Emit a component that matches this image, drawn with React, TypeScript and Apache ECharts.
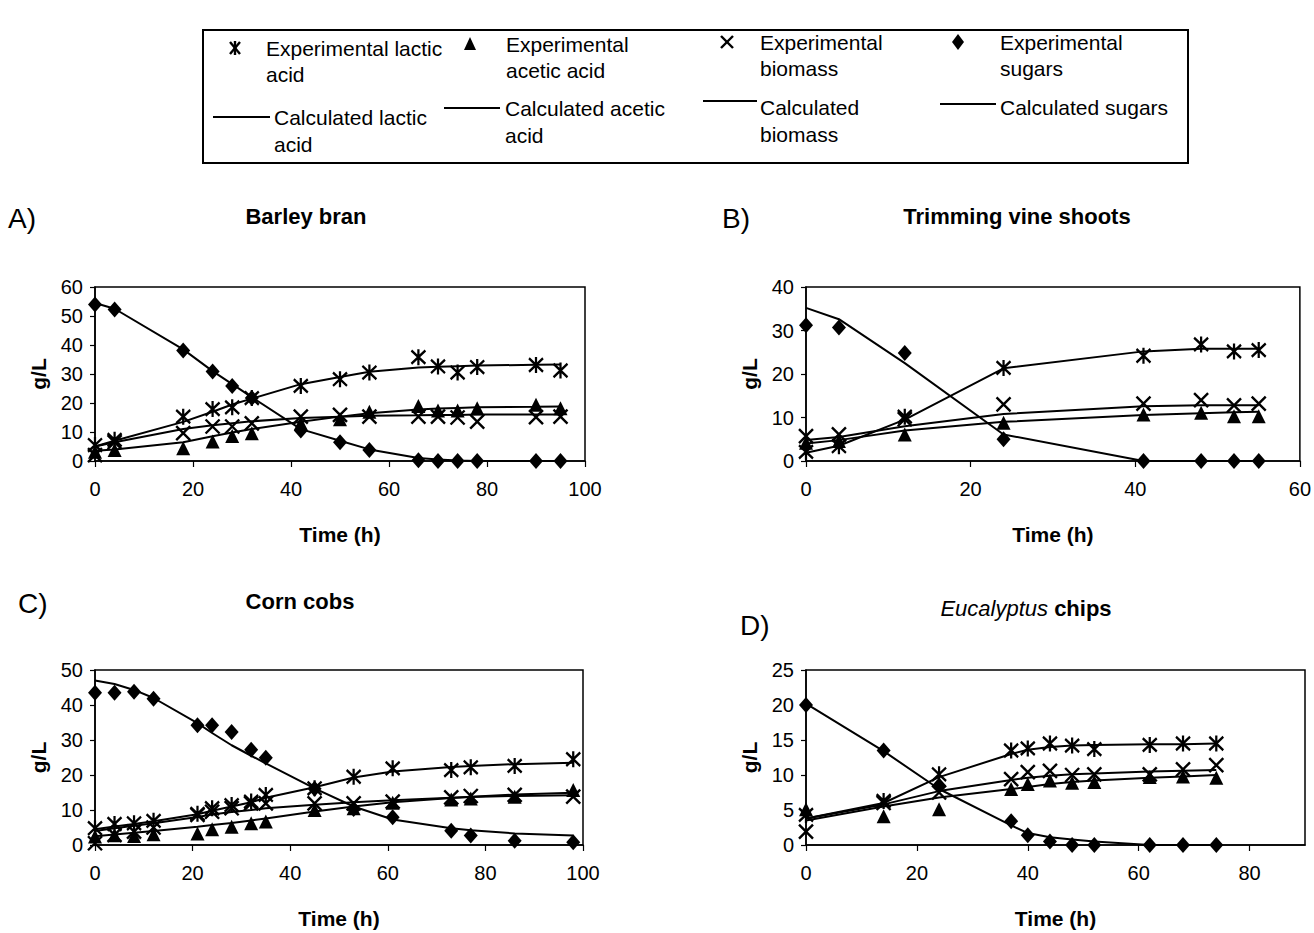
import React, { useEffect, useRef } from 'react';
import * as echarts from 'echarts';

const FONT = '"Liberation Sans", Arial, Helvetica, sans-serif';

// ---------- Panel A: Barley bran ----------
const aTime = [0, 4, 18, 24, 28, 32, 42, 50, 56, 66, 70, 74, 78, 90, 95];
const aLacticExp = [5.5, 7.3, 15.3, 17.9, 18.5, 21.7, 25.9, 28.2, 30.5, 35.8, 32.6, 30.5, 32.4, 33.1, 31.2];
const aLacticCalc = [5, 7, 13.5, 17, 19.5, 21.5, 26.5, 29, 30.8, 32.2, 32.5, 32.7, 32.9, 33.2, 33.3];
const aAceticExp = [3.2, 3.8, 4.4, 6.7, 8.6, 9.6, 13, 14.4, 17, 19, 17.4, 17.4, 18.2, 19.4, 18.2];
const aAceticCalc = [3.5, 4, 6.5, 8.5, 9.8, 11, 13.5, 15.3, 16.5, 17.8, 18.1, 18.3, 18.5, 18.7, 18.8];
const aBiomassExp = [2, 6.5, 9.6, 11.9, 11.9, 13, 15.3, 15.9, 15.3, 15.3, 15.3, 15, 13.6, 15.1, 15.3];
const aBiomassCalc = [5, 6.5, 11, 12.3, 13, 13.7, 14.8, 15.3, 15.6, 15.8, 15.9, 15.9, 16, 16, 16];
const aSugarsExp = [54, 52.2, 38.1, 30.9, 25.9, 21.7, 10.5, 6.5, 3.8, 0.3, 0, 0, 0, 0, 0];
const aSugarsCalc = [54.5, 52.5, 38.5, 31, 26.5, 22, 11, 7, 4, 1, 0.5, 0.2, 0, 0, 0];

// ---------- Panel B: Trimming vine shoots ----------
const bTime = [0, 4, 12, 24, 41, 48, 52, 55];
const bLacticExp = [2.1, 3.4, 10.2, 21.4, 24.2, 26.8, 25.2, 25.5];
const bLacticCalc = [1.9, 3.5, 9.5, 21.3, 25.2, 25.8, 25.8, 25.8];
const bAceticExp = [4.2, 4.6, 6.1, 8.8, 10.7, 11.1, 10.3, 10.3];
const bAceticCalc = [4, 4.8, 7, 9, 10.6, 11, 11.2, 11.3];
const bBiomassExp = [5.7, 6.1, 9.6, 13, 13.2, 14, 12.8, 13.2];
const bBiomassCalc = [4.8, 5.5, 8, 10.8, 12.6, 12.8, 12.8, 12.8];
const bSugarsExp = [31.2, 30.7, 24.8, 5, 0, 0, 0, 0];
const bSugarsCalc = [35.2, 32.6, 22.5, 6.1, 0, 0, 0, 0];

// ---------- Panel C: Corn cobs ----------
const cTime = [0, 4, 8, 12, 21, 24, 28, 32, 35, 45, 53, 61, 73, 77, 86, 98];
const cLacticExp = [4.8, 6, 6.2, 6.9, 8.9, 10.5, 11.4, 12.4, 14.3, 16.2, 19.5, 21.9, 21.4, 22.2, 22.6, 24.5];
const cLacticCalc = [4.5, 5.3, 6, 6.8, 8.8, 9.8, 11, 12.2, 13.5, 16.5, 19.3, 21, 22.3, 22.6, 23.1, 23.5];
const cAceticExp = [2.4, 2.8, 2.6, 3.1, 3.3, 4.5, 5.2, 6.2, 6.7, 10, 10.5, 12.1, 13, 13.3, 13.8, 15.7];
const cAceticCalc = [2.5, 3, 3.5, 4, 5.2, 5.7, 6.3, 7, 7.6, 9.6, 11, 12.2, 13.4, 13.8, 14.4, 14.9];
const cBiomassExp = [0.5, 2.9, 3.8, 5, 8.6, 9.5, 10.5, 11.9, 11.9, 11.9, 11.9, 12.4, 13.6, 14, 14.3, 13.8];
const cBiomassCalc = [4, 4.8, 5.5, 6.2, 8, 8.7, 9.4, 10, 10.5, 11.5, 12.2, 12.8, 13.5, 13.7, 14, 14.2];
const cSugarsExp = [43.5, 43.5, 43.8, 41.8, 34.2, 34.2, 32.3, 27.2, 24.9, 16.1, 10.3, 7.9, 4.1, 2.7, 1.2, 0.8];
const cSugarsCalc = [47, 46, 44.3, 42, 34.8, 32, 28.5, 25.5, 23.3, 16.2, 11, 7.3, 4.8, 4.2, 3.3, 2.7];

// ---------- Panel D: Eucalyptus chips ----------
const dTime = [0, 14, 24, 37, 40, 44, 48, 52, 62, 68, 74];
const dLacticExp = [4.3, 6.3, 10.1, 13.5, 13.8, 14.5, 14.2, 13.7, 14.3, 14.5, 14.5];
const dLacticCalc = [3.8, 6, 9.7, 13, 13.6, 14, 14.2, 14.3, 14.4, 14.4, 14.5];
const dAceticExp = [5.1, 4.1, 5.1, 8, 8.7, 9.2, 8.9, 9, 9.7, 9.8, 9.6];
const dAceticCalc = [3.5, 5.5, 6.8, 8, 8.3, 8.7, 9, 9.2, 9.6, 9.8, 10];
const dBiomassExp = [1.9, 6, 7.5, 9.4, 10.4, 10.6, 10, 10.1, 10.1, 10.8, 11.4];
const dBiomassCalc = [3.8, 5.8, 7.7, 9.3, 9.6, 9.9, 10.1, 10.2, 10.5, 10.6, 10.7];
const dSugarsExp = [20, 13.5, 8.5, 3.4, 1.4, 0.5, 0, 0, 0, 0, 0];
const dSugarsCalc = [20.2, 13.4, 8, 2.8, 1.7, 1.1, 0.8, 0.5, 0, 0, 0];

// Axis settings
const xMax = [100, 60, 100, 90];
const xInterval = [20, 20, 20, 20];
const yMax = [60, 40, 50, 25];
const yInterval = [10, 10, 10, 5];

const panelTitles = ['Barley bran', 'Trimming vine shoots', 'Corn cobs', '{i|Eucalyptus} {b|chips}'];
const panelLetters = ['A)', 'B)', 'C)', 'D)'];

const legendExp = ['Experimental lactic\nacid', 'Experimental\nacetic acid', 'Experimental\nbiomass', 'Experimental\nsugars'];
const legendCalc = ['Calculated lactic\nacid', 'Calculated acetic\nacid', 'Calculated\nbiomass', 'Calculated sugars'];

const ASTERISK = 'path://M0,1L10,11M10,1L0,11M5,0L5,12';
const CROSS = 'path://M0,0L10,10M10,0L0,10';

const grids = [
  { left: 95, top: 287, width: 490, height: 174 },
  { left: 806, top: 287, width: 496, height: 174 },
  { left: 95, top: 670, width: 488, height: 175 },
  { left: 806, top: 670, width: 499, height: 175 },
];

const zip = (t: number[], v: number[]) => t.map((x, i) => [x, v[i]]);

function panelSeries(gi: number, t: number[], sets: number[][]) {
  const [lacE, lacC, aceE, aceC, bioE, bioC, sugE, sugC] = sets;
  const line = (v: number[]) => ({
    type: 'line',
    xAxisIndex: gi,
    yAxisIndex: gi,
    data: zip(t, v),
    showSymbol: false,
    symbol: 'none',
    lineStyle: { color: '#000', width: 2 },
    z: 2,
    silent: true,
  });
  const scat = (v: number[], symbol: string, size: number | number[], stroke: boolean) => ({
    type: 'scatter',
    xAxisIndex: gi,
    yAxisIndex: gi,
    data: zip(t, v),
    symbol,
    symbolSize: size,
    itemStyle: stroke
      ? { color: '#000', borderColor: '#000', borderWidth: 2.4, opacity: 1 }
      : { color: '#000', borderWidth: 0, opacity: 1 },
    z: 3,
    silent: true,
  });
  return [
    line(lacC),
    line(aceC),
    line(bioC),
    line(sugC),
    scat(lacE, ASTERISK, [14, 16], true),
    scat(aceE, 'triangle', [14, 14], false),
    scat(bioE, CROSS, [14, 14], true),
    scat(sugE, 'diamond', [14, 16], false),
  ];
}

function legendGraphics() {
  const els: any[] = [];
  els.push({
    type: 'rect',
    shape: { x: 203, y: 30, width: 985, height: 133 },
    style: { fill: '#fff', stroke: '#000', lineWidth: 2 },
    z: 0,
  });
  const ls = { stroke: '#000', lineWidth: 2.4 };
  // asterisk
  const ax = 235, ay = 48;
  els.push({ type: 'line', shape: { x1: ax - 5, y1: ay - 6, x2: ax + 5, y2: ay + 6 }, style: ls });
  els.push({ type: 'line', shape: { x1: ax + 5, y1: ay - 6, x2: ax - 5, y2: ay + 6 }, style: ls });
  els.push({ type: 'line', shape: { x1: ax, y1: ay - 7, x2: ax, y2: ay + 7 }, style: ls });
  // triangle
  const tx = 470, ty = 44;
  els.push({ type: 'polygon', shape: { points: [[tx, ty - 7], [tx + 6, ty + 6], [tx - 6, ty + 6]] }, style: { fill: '#000' } });
  // cross
  const cx = 727, cy = 42;
  els.push({ type: 'line', shape: { x1: cx - 6, y1: cy - 6, x2: cx + 6, y2: cy + 6 }, style: ls });
  els.push({ type: 'line', shape: { x1: cx + 6, y1: cy - 6, x2: cx - 6, y2: cy + 6 }, style: ls });
  // diamond
  const dx = 958, dy = 42;
  els.push({ type: 'polygon', shape: { points: [[dx, dy - 8], [dx + 6, dy], [dx, dy + 8], [dx - 6, dy]] }, style: { fill: '#000' } });

  const expPos = [[266, 35], [506, 31], [760, 29], [1000, 29]];
  legendExp.forEach((s, i) => {
    els.push({
      type: 'text',
      x: expPos[i][0],
      y: expPos[i][1],
      style: { text: s, font: `21px ${FONT}`, fill: '#000', lineHeight: 26, textAlign: 'left', textVerticalAlign: 'top' },
    });
  });
  const calcLines = [[213, 270, 117], [444, 500, 108], [703, 757, 101], [940, 996, 104]];
  calcLines.forEach((l) => {
    els.push({ type: 'line', shape: { x1: l[0], y1: l[2], x2: l[1], y2: l[2] }, style: { stroke: '#000', lineWidth: 2 } });
  });
  const calcPos = [[274, 104], [505, 95], [760, 94], [1000, 94]];
  legendCalc.forEach((s, i) => {
    els.push({
      type: 'text',
      x: calcPos[i][0],
      y: calcPos[i][1],
      style: { text: s, font: `21px ${FONT}`, fill: '#000', lineHeight: 27, textAlign: 'left', textVerticalAlign: 'top' },
    });
  });
  return els;
}

function panelTextGraphics() {
  const els: any[] = [];
  const letterPos = [[8, 218], [722, 218], [18, 603], [740, 625]];
  panelLetters.forEach((s, i) => {
    els.push({
      type: 'text',
      x: letterPos[i][0],
      y: letterPos[i][1],
      style: { text: s, font: `28px ${FONT}`, fill: '#000', textAlign: 'left', textVerticalAlign: 'middle' },
    });
  });
  const titlePos = [[306, 216], [1017, 216], [300, 601], [1026, 608]];
  panelTitles.forEach((s, i) => {
    els.push({
      type: 'text',
      x: titlePos[i][0],
      y: titlePos[i][1],
      style: {
        text: s,
        font: `bold 22px ${FONT}`,
        fill: '#000',
        textAlign: 'center',
        textVerticalAlign: 'middle',
        rich: {
          i: { fontStyle: 'italic', fontWeight: 'normal', fontSize: 22, fontFamily: FONT, fill: '#000' },
          b: { fontWeight: 'bold', fontSize: 22, fontFamily: FONT, fill: '#000' },
        },
      },
    });
  });
  return els;
}

export default function App() {
  const ref = useRef<HTMLDivElement>(null);
  useEffect(() => {
    if (!ref.current) return;
    const chart = echarts.init(ref.current, undefined, { renderer: 'svg' });

    const xAxes = grids.map((_, i) => ({
      gridIndex: i,
      type: 'value',
      min: 0,
      max: xMax[i],
      interval: xInterval[i],
      axisLine: { show: true, onZero: false, lineStyle: { color: '#000', width: 1.5 } },
      axisTick: { show: true, inside: false, length: 6, lineStyle: { color: '#000', width: 1.2 } },
      axisLabel: { color: '#000', fontSize: 20, fontFamily: FONT, margin: 18, showMaxLabel: i !== 3 },
      splitLine: { show: false },
      name: 'Time (h)',
      nameLocation: 'middle',
      nameGap: 63,
      nameTextStyle: { color: '#000', fontSize: 21, fontWeight: 'bold', fontFamily: FONT },
    }));
    const yAxes = grids.map((_, i) => ({
      gridIndex: i,
      type: 'value',
      min: 0,
      max: yMax[i],
      interval: yInterval[i],
      axisLine: { show: true, onZero: false, lineStyle: { color: '#000', width: 1.5 } },
      axisTick: { show: true, inside: false, length: 5, lineStyle: { color: '#000', width: 1.2 } },
      axisLabel: { color: '#000', fontSize: 20, fontFamily: FONT, margin: 12 },
      splitLine: { show: false },
      name: 'g/L',
      nameLocation: 'middle',
      nameGap: 46,
      nameTextStyle: { color: '#000', fontSize: 21, fontWeight: 'bold', fontFamily: FONT },
    }));

    const series = [
      ...panelSeries(0, aTime, [aLacticExp, aLacticCalc, aAceticExp, aAceticCalc, aBiomassExp, aBiomassCalc, aSugarsExp, aSugarsCalc]),
      ...panelSeries(1, bTime, [bLacticExp, bLacticCalc, bAceticExp, bAceticCalc, bBiomassExp, bBiomassCalc, bSugarsExp, bSugarsCalc]),
      ...panelSeries(2, cTime, [cLacticExp, cLacticCalc, cAceticExp, cAceticCalc, cBiomassExp, cBiomassCalc, cSugarsExp, cSugarsCalc]),
      ...panelSeries(3, dTime, [dLacticExp, dLacticCalc, dAceticExp, dAceticCalc, dBiomassExp, dBiomassCalc, dSugarsExp, dSugarsCalc]),
    ];

    chart.setOption({
      animation: false,
      backgroundColor: '#fff',
      grid: grids.map((g) => ({ ...g, show: true, borderColor: '#000', borderWidth: 1.5, backgroundColor: 'transparent', containLabel: false })),
      xAxis: xAxes,
      yAxis: yAxes,
      series,
      graphic: { elements: [...legendGraphics(), ...panelTextGraphics()] },
    });
    return () => chart.dispose();
  }, []);
  return <div ref={ref} style={{ position: 'fixed', left: 0, top: 0, width: 1314, height: 933, background: '#fff' }} />;
}
